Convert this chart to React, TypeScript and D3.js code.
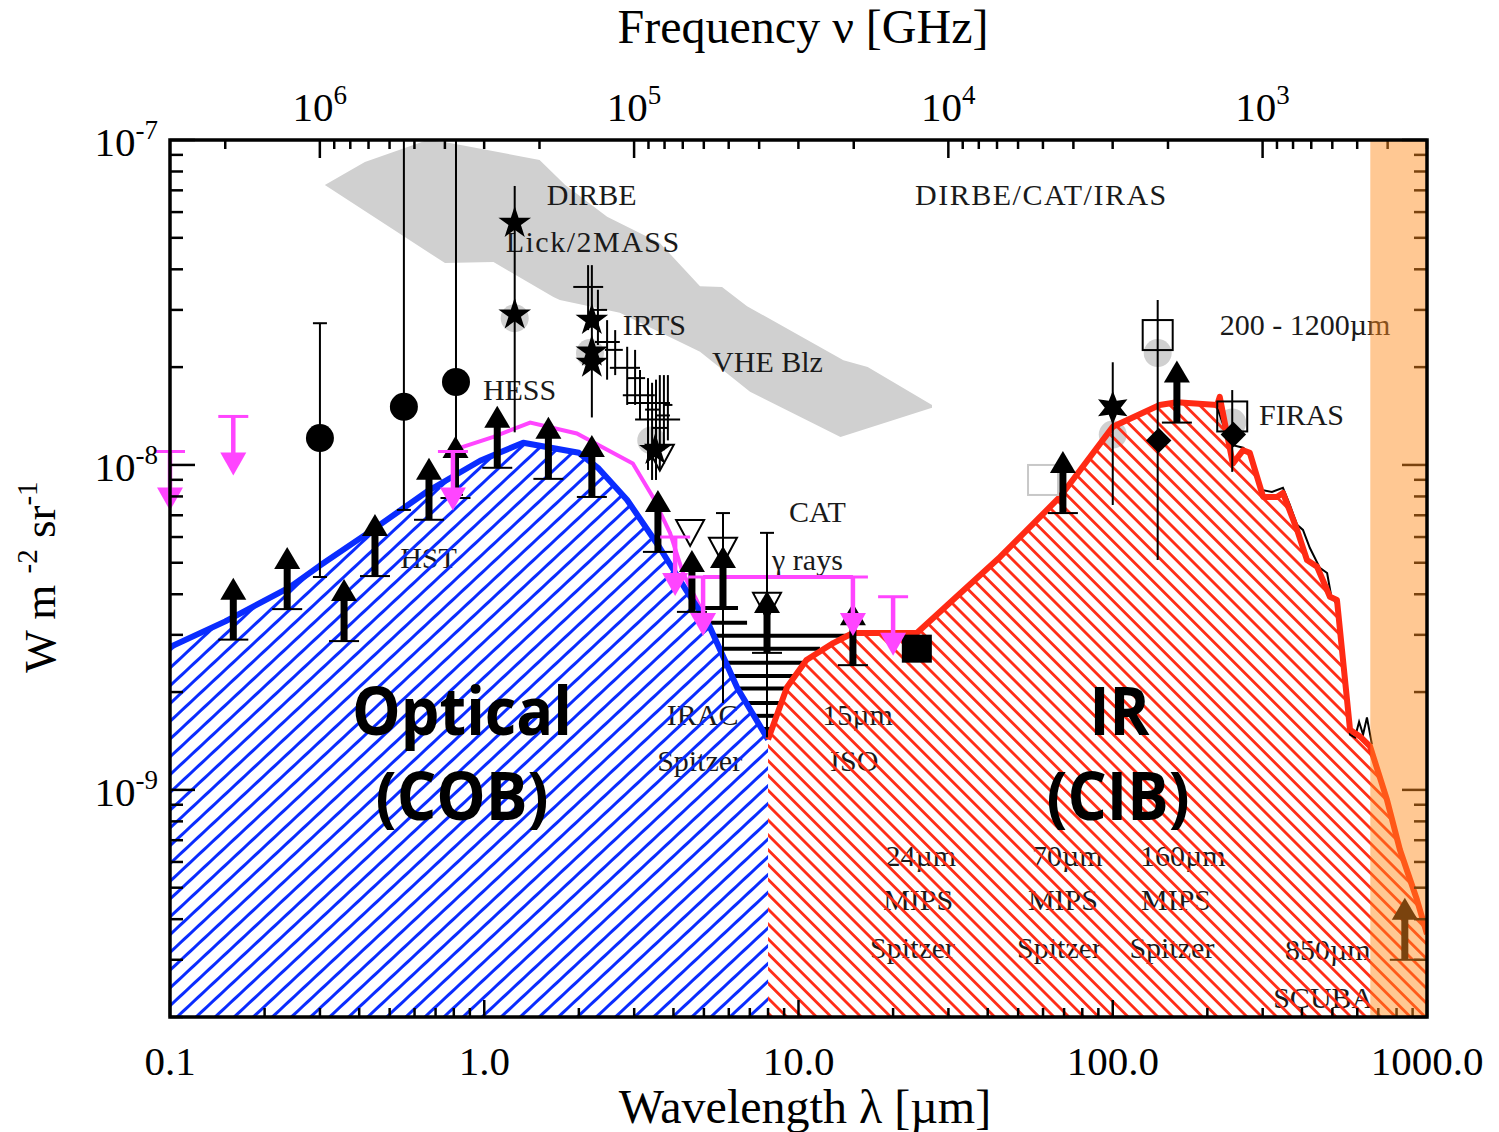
import React from 'react'
import * as d3 from 'd3'

type P = [number, number]

// wavelength [um] vs nu I_nu [W m^-2 sr^-1]
const cobModel: P[] = [
  [0.1, 2.75e-9], [0.15, 3.3e-9], [0.24, 4.2e-9], [0.3, 4.9e-9], [0.44, 6.3e-9],
  [0.66, 8.3e-9], [0.97, 1.03e-8], [1.33, 1.17e-8], [2.0, 1.09e-8], [2.3, 9.8e-9],
  [2.85, 7.8e-9], [3.6, 5.6e-9], [4.4, 4.1e-9], [5.2, 3.2e-9], [6.4, 2.05e-9], [8.0, 1.43e-9],
]

const cibModel: P[] = [
  [8.0, 1.43e-9], [9.19, 2.07e-9], [10.6, 2.51e-9], [12.9, 2.83e-9], [14.9, 3.04e-9],
  [23.8, 3.04e-9], [31.0, 3.84e-9], [43.8, 5.21e-9], [67.9, 7.97e-9], [100, 1.31e-8],
  [141, 1.53e-8], [160, 1.56e-8], [215, 1.53e-8], [219, 1.62e-8], [241, 1.01e-8],
  [260, 1.11e-8], [273, 1.09e-8], [301, 7.97e-9], [333, 7.97e-9], [348, 8.2e-9],
  [386, 6.31e-9], [415, 5.1e-9], [447, 4.86e-9], [491, 3.93e-9], [517, 3.84e-9],
  [569, 1.53e-9], [612, 1.46e-9], [659, 1.36e-9], [746, 9.31e-10], [820, 6.54e-10],
  [929, 4.59e-10], [1000, 3.6e-10],
]

const firasSpectrum: P[] = [
  [216, 1.48e-8], [228, 1.28e-8], [241, 1.15e-8], [260, 1.13e-8], [277, 1.07e-8],
  [298, 8.38e-9], [321, 8.26e-9], [348, 8.5e-9], [366, 7.53e-9], [386, 6.54e-9],
  [403, 6.31e-9], [424, 5.55e-9], [456, 4.82e-9], [481, 4.65e-9], [495, 3.98e-9],
  [517, 3.71e-9], [548, 2.18e-9], [569, 1.48e-9], [590, 1.45e-9], [608, 1.62e-9],
  [626, 1.48e-9], [644, 1.67e-9], [668, 1.38e-9],
]

const gammaUpperCurve: P[] = [
  [0.795, 1.11e-8], [1.07, 1.22e-8], [1.4, 1.35e-8], [1.97, 1.25e-8], [2.97, 1.01e-8],
  [3.44, 7.97e-9], [3.9, 6.18e-9], [4.29, 4.65e-9], [4.97, 3.5e-9],
]

// grey VHE blazar band, outline
const vheBand: P[] = [
  [0.311, 7.27e-8], [0.417, 8.56e-8], [0.66, 1.0e-7], [0.778, 9.79e-8], [1.5, 8.68e-8],
  [1.81, 7.27e-8], [2.46, 5.8e-8], [3.62, 4.82e-8], [4.86, 3.55e-8], [5.71, 3.53e-8],
  [6.86, 3.08e-8], [13.9, 2.1e-8], [16.6, 2.0e-8], [26.6, 1.53e-8], [26.6, 1.5e-8],
  [13.6, 1.22e-8], [7.01, 1.68e-8], [4.86, 2.23e-8], [2.7, 2.94e-8], [1.74, 3.22e-8],
  [1.66, 3.29e-8], [1.07, 4.21e-8], [0.75, 4.18e-8],
]

const lowerLimits: P[] = [
  [0.159, 2.9e-9], [0.236, 3.6e-9], [0.358, 2.87e-9], [0.449, 4.55e-9], [0.667, 6.78e-9],
  [0.81, 7.91e-9], [1.1, 9.8e-9], [1.6, 9.06e-9], [2.2, 7.97e-9], [3.57, 5.4e-9],
  [4.58, 3.53e-9], [5.75, 3.63e-9], [7.94, 2.64e-9], [14.9, 2.42e-9], [69.4, 7.11e-9],
  [160, 1.35e-8], [850, 3.0e-10],
]

const upperLimits: P[] = [
  [0.1, 1.1e-8], [0.159, 1.41e-8], [0.795, 1.1e-8], [4.05, 6.0e-9],
  [4.97, 4.52e-9], [14.9, 4.52e-9], [20.0, 3.93e-9],
]
const upperBox: P[] = [[4.97, 4.52e-9], [14.9, 4.52e-9]]

// [lambda, value, low, high]
const circles: [number, number, number, number][] = [
  [0.3, 1.21e-8, 4.52e-9, 2.73e-8], [0.555, 1.51e-8, 7.27e-9, 1e-7], [0.813, 1.8e-8, 8.09e-9, 1e-7],
]
const stars: P[] = [
  [1.25, 5.55e-8], [1.25, 2.9e-8], [2.2, 2.79e-8], [2.2, 2.23e-8], [2.2, 2.06e-8], [3.5, 1.11e-8],
]
const starErrors: [number, number, number][] = [[1.25, 1.26e-8, 7.22e-8], [2.2, 1.4e-8, 4.12e-8]]
const greyDots: P[] = [
  [1.25, 2.83e-8], [2.17, 2.21e-8], [3.4, 1.19e-8], [100, 1.24e-8], [139, 2.21e-8], [240, 1.35e-8],
]
// IRTS: [lambda, lamLo, lamHi, value, low, high]
const irts: number[][] = [
  [2.14, 1.92, 2.39, 3.53e-8, 2.6e-8, 4.12e-8],
  [2.3, 2.17, 2.46, 3.0e-8, 2.34e-8, 3.46e-8],
  [2.46, 2.25, 2.7, 2.39e-8, 1.83e-8, 2.79e-8],
  [2.61, 2.42, 2.76, 2.26e-8, 1.89e-8, 2.6e-8],
  [2.85, 2.51, 3.13, 1.99e-8, 1.53e-8, 2.31e-8],
  [3.02, 2.85, 3.25, 1.85e-8, 1.53e-8, 2.26e-8],
  [3.13, 2.76, 3.49, 1.64e-8, 1.38e-8, 1.96e-8],
  [3.32, 2.85, 3.9, 1.55e-8, 9.65e-9, 1.85e-8],
  [3.42, 3.25, 3.62, 1.48e-8, 8.99e-9, 1.79e-8],
  [3.52, 3.02, 4.2, 1.38e-8, 8.99e-9, 1.83e-8],
  [3.62, 3.42, 3.84, 1.3e-8, 9.65e-9, 1.89e-8],
  [3.73, 3.52, 3.9, 1.42e-8, 1.11e-8, 1.89e-8],
  [3.84, 3.73, 3.97, 1.53e-8, 1.19e-8, 1.89e-8],
]
// open down triangles: [lambda, value, low, high] (0 = no bar)
const triangles: number[][] = [
  [3.62, 1.06e-8, 0, 0], [4.52, 6.22e-9, 0, 0], [5.75, 5.48e-9, 1.85e-9, 7.11e-9], [7.94, 3.71e-9, 1.45e-9, 6.18e-9],
]
// horizontal gamma-ray bars: [value, lamLo, lamHi]
const gammaBars: number[][] = [
  [3.63e-9, 4.75, 6.42], [3.27e-9, 4.97, 6.86], [2.98e-9, 5.31, 14.6], [2.72e-9, 5.54, 11.7],
  [2.46e-9, 5.84, 10.5], [2.24e-9, 6.19, 9.89], [2.05e-9, 6.51, 9.33], [1.85e-9, 6.86, 8.93],
  [1.69e-9, 7.27, 8.6], [1.54e-9, 7.65, 8.3],
]
const hexStar: [number, number, number, number] = [100, 1.5e-8, 7.53e-9, 2.07e-8]
const openSquares: [number, number, number, number][] = [
  [139, 2.51e-8, 5.1e-9, 3.22e-8], [240, 1.41e-8, 9.52e-9, 1.7e-8],
]
const faintSquare: P = [60, 8.99e-9]
const diamonds: P[] = [[140, 1.19e-8], [242, 1.24e-8]]
const filledSquare: P = [23.8, 2.72e-9]
const submmBand: P = [660, 1000]

const notes: [string, number, number][] = [
  ['DIRBE', 1.58, 6.31e-8], ['Lick/2MASS', 1.17, 4.52e-8], ['IRTS', 2.76, 2.51e-8],
  ['HESS', 0.99, 1.58e-8], ['VHE Blz', 5.31, 1.93e-8], ['HST', 0.54, 4.82e-9],
  ['CAT', 9.33, 6.68e-9], ['\u03b3 rays', 8.24, 4.75e-9], ['DIRBE/CAT/IRAS', 23.5, 6.31e-8],
  ['200 - 1200\u00b5m', 219, 2.51e-8], ['FIRAS', 292, 1.33e-8],
  ['IRAC', 3.81, 1.58e-9], ['Spitzer', 3.55, 1.14e-9], ['15\u00b5m', 11.9, 1.58e-9], ['ISO', 12.6, 1.14e-9],
  ['24\u00b5m', 18.9, 5.85e-10], ['MIPS', 18.6, 4.27e-10], ['Spitzer', 16.9, 3.04e-10],
  ['70\u00b5m', 55.3, 5.85e-10], ['MIPS', 53.7, 4.27e-10], ['Spitzer', 49.6, 3.04e-10],
  ['160\u00b5m', 122, 5.85e-10], ['MIPS', 123, 4.27e-10], ['Spitzer', 113, 3.04e-10],
  ['850\u00b5m', 353, 3.0e-10], ['SCUBA', 324, 2.13e-10],
]
const wideNotes = ['Lick/2MASS', 'DIRBE/CAT/IRAS']
const bigLabels: [string, number, number, number][] = [
  ['Optical', 0.85, 1.48e-9, 220], ['(COB)', 0.85, 8.05e-10, 173],
  ['IR', 105, 1.48e-9, 60], ['(CIB)', 104, 8.05e-10, 143],
]

const lambdaTicks = [0.1, 1, 10, 100, 1000]
const lambdaTickLabels = ['0.1', '1.0', '10.0', '100.0', '1000.0']
const fluxTicks = [1e-7, 1e-8, 1e-9]
const fluxTickExp = ['-7', '-8', '-9']
const freqTicks = [1e6, 1e5, 1e4, 1e3]
const freqTickExp = ['6', '5', '4', '3']
const C_UM_GHZ = 299792.458

const serif = "'Liberation Serif', 'Times New Roman', serif"
const BLUE = '#0a2cff'
const RED = '#ff2a14'
const MAGENTA = '#ff45ff'

const isDecade = (t: number) => Math.abs(Math.log10(t) - Math.round(Math.log10(t))) < 1e-6

export default function App() {
  const width = 1499
  const height = 1132
  const x = d3.scaleLog().domain([0.1, 1000]).range([170, 1427])
  const y = d3.scaleLog().domain([2e-10, 1e-7]).range([1017, 140])
  const left = 170, right = 1427, top = 140, bottom = 1017
  const freq = d3.scaleLog().domain([C_UM_GHZ / 0.1, C_UM_GHZ / 1000])
  const fx = (nu: number) => x(C_UM_GHZ / nu)

  const line = d3.line<P>().x((d) => x(d[0])).y((d) => y(d[1]))
  const area = d3.area<P>().x((d) => x(d[0])).y0(bottom).y1((d) => y(d[1]))
  const starPath = d3.symbol().type(d3.symbolStar).size(330)() as string
  const hexPath = d3.range(12).map((i) => {
    const r = i % 2 === 0 ? 17 : 8
    const a = (Math.PI / 6) * i - Math.PI / 2
    return `${i === 0 ? 'M' : 'L'}${r * Math.cos(a)},${r * Math.sin(a)}`
  }).join('') + 'Z'

  const upArrow = (cx: number, cy: number, key: string) => (
    <g key={key} fill="#000" stroke="#000">
      <line x1={cx - 15} x2={cx + 15} y1={cy} y2={cy} strokeWidth={2} />
      <rect x={cx - 3.5} y={cy - 42} width={7} height={42} stroke="none" />
      <path d={`M${cx - 13},${cy - 40}L${cx + 13},${cy - 40}L${cx},${cy - 62}Z`} stroke="none" />
    </g>
  )
  const downArrow = (cx: number, cy: number, key: string) => (
    <g key={key} fill={MAGENTA} stroke={MAGENTA}>
      <line x1={cx - 15} x2={cx + 15} y1={cy} y2={cy} strokeWidth={3} />
      <line x1={cx} x2={cx} y1={cy} y2={cy + 38} strokeWidth={4.5} />
      <path d={`M${cx - 13},${cy + 36}L${cx + 13},${cy + 36}L${cx},${cy + 59}Z`} stroke="none" />
    </g>
  )

  return (
    <svg width={width} height={height} style={{ position: 'absolute', left: 0, top: 0, background: '#fff' }}>
      <defs>
        <clipPath id="plot">
          <rect x={left} y={top} width={right - left} height={bottom - top} />
        </clipPath>
        <pattern id="hatchBlue" patternUnits="userSpaceOnUse" width={13} height={13} patternTransform="rotate(47)">
          <line x1={6.5} y1={-2} x2={6.5} y2={15} stroke={BLUE} strokeWidth={3} />
        </pattern>
        <pattern id="hatchRed" patternUnits="userSpaceOnUse" width={10.5} height={10.5} patternTransform="rotate(-45)">
          <line x1={5.25} y1={-2} x2={5.25} y2={13} stroke={RED} strokeWidth={2.8} />
        </pattern>
      </defs>

      <g clipPath="url(#plot)">
        {/* grey VHE blazar band */}
        <path d={line(vheBand) + 'Z'} fill="#d0d0d0" />
        {greyDots.map((d, i) => (
          <circle key={'g' + i} cx={x(d[0])} cy={y(d[1])} r={14} fill="#d0d0d0" />
        ))}

        {/* annotations */}
        {notes.map(([t, l, v], i) => (
          <text key={'n' + i} x={x(l)} y={y(v)} fontFamily={serif} fontSize={30} fill="#1a1a1a"
            letterSpacing={wideNotes.includes(t) ? 1.5 : 0}>{t}</text>
        ))}

        {/* hatched COB / CIB areas */}
        <path d={area(cobModel) as string} fill="url(#hatchBlue)" />
        <path d={area(cibModel) as string} fill="url(#hatchRed)" />

        {/* gamma-ray horizontal bars */}
        {gammaBars.map(([v, lo, hi], i) => (
          <line key={'b' + i} x1={x(lo)} x2={x(hi)} y1={y(v)} y2={y(v)} stroke="#000" strokeWidth={4} />
        ))}

        {/* model curves */}
        <path d={line(gammaUpperCurve) as string} fill="none" stroke={MAGENTA} strokeWidth={4} />
        <path d={line(upperBox) as string} fill="none" stroke={MAGENTA} strokeWidth={4} />
        <path d={line(firasSpectrum) as string} fill="none" stroke="#000" strokeWidth={2} />
        <path d={line(cobModel) as string} fill="none" stroke={BLUE} strokeWidth={6} strokeLinejoin="round" />
        <path d={line(cibModel) as string} fill="none" stroke={RED} strokeWidth={6} strokeLinejoin="round" />

        {/* circles with error bars */}
        {circles.map(([l, v, lo, hi], i) => (
          <g key={'c' + i} stroke="#000" strokeWidth={2}>
            <line x1={x(l)} x2={x(l)} y1={y(lo)} y2={y(hi)} />
            <line x1={x(l) - 7} x2={x(l) + 7} y1={y(lo)} y2={y(lo)} />
            {hi < 1e-7 && <line x1={x(l) - 7} x2={x(l) + 7} y1={y(hi)} y2={y(hi)} />}
            <circle cx={x(l)} cy={y(v)} r={14} fill="#000" stroke="none" />
          </g>
        ))}

        {/* IRTS crosses */}
        {irts.map(([l, llo, lhi, v, lo, hi], i) => (
          <g key={'i' + i} stroke="#000" strokeWidth={2}>
            <line x1={x(llo)} x2={x(lhi)} y1={y(v)} y2={y(v)} />
            <line x1={x(l)} x2={x(l)} y1={y(lo)} y2={y(hi)} />
          </g>
        ))}

        {/* stars */}
        {starErrors.map(([l, lo, hi], i) => (
          <line key={'se' + i} x1={x(l)} x2={x(l)} y1={y(lo)} y2={y(hi)} stroke="#000" strokeWidth={2} />
        ))}
        {stars.map((d, i) => (
          <path key={'s' + i} d={starPath} transform={`translate(${x(d[0])},${y(d[1])})`} fill="#000" />
        ))}

        {/* open triangles */}
        {triangles.map(([l, v, lo, hi], i) => {
          const cx = x(l), cy = y(v)
          return (
            <g key={'t' + i} stroke="#000" strokeWidth={2} fill="none">
              {hi > 0 && <line x1={cx} x2={cx} y1={y(lo)} y2={y(hi)} />}
              {hi > 0 && <line x1={cx - 7} x2={cx + 7} y1={y(hi)} y2={y(hi)} />}
              <path d={`M${cx - 14},${cy - 12}L${cx + 14},${cy - 12}L${cx},${cy + 14}Z`} />
            </g>
          )
        })}

        {/* IR points */}
        <g stroke="#000" strokeWidth={2}>
          <line x1={x(hexStar[0])} x2={x(hexStar[0])} y1={y(hexStar[2])} y2={y(hexStar[3])} />
          {openSquares.map(([l, v, lo, hi], i) => (
            <line key={'qe' + i} x1={x(l)} x2={x(l)} y1={y(lo)} y2={y(hi)} />
          ))}
        </g>
        <path d={hexPath} transform={`translate(${x(hexStar[0])},${y(hexStar[1])})`} fill="#000" />
        {openSquares.map(([l, v], i) => (
          <rect key={'q' + i} x={x(l) - 15} y={y(v) - 15} width={30} height={30} fill="none" stroke="#000" strokeWidth={2} />
        ))}
        <rect x={x(faintSquare[0]) - 15} y={y(faintSquare[1]) - 15} width={30} height={30} fill="none" stroke="#c8c8c8" strokeWidth={2} />
        {diamonds.map((d, i) => (
          <rect key={'d' + i} x={-9} y={-9} width={18} height={18} fill="#000"
            transform={`translate(${x(d[0])},${y(d[1])}) rotate(45)`} />
        ))}
        <rect x={x(filledSquare[0]) - 15} y={y(filledSquare[1]) - 14} width={30} height={28} fill="#000" />

        {lowerLimits.map((d, i) => upArrow(x(d[0]), y(d[1]), 'u' + i))}
      </g>

      {upperLimits.map((d, i) => downArrow(x(d[0]), y(d[1]), 'm' + i))}

      {/* big region labels */}
      {bigLabels.map(([t, l, v, w], i) => (
        <text key={'L' + i} x={x(l)} y={y(v)} textAnchor="middle" fontFamily="'Open Sans', 'Noto Sans', sans-serif"
          fontWeight="bold" fontSize={66} textLength={w} lengthAdjust="spacingAndGlyphs" fill="#000">{t}</text>
      ))}

      {/* ticks */}
      <g stroke="#000" strokeWidth={2.5}>
        {x.ticks().map((t, i) => {
          const len = isDecade(t) ? 17 : 9
          return <line key={'xt' + i} x1={x(t)} x2={x(t)} y1={bottom} y2={bottom - len} />
        })}
        {freq.ticks().map((t, i) => {
          const len = isDecade(t) ? 18 : 9
          return <line key={'ft' + i} x1={fx(t)} x2={fx(t)} y1={top} y2={top + len} />
        })}
        {y.ticks().map((t, i) => {
          const len = isDecade(t) ? 25 : 13
          return (
            <g key={'yt' + i}>
              <line x1={left} x2={left + len} y1={y(t)} y2={y(t)} />
              <line x1={right} x2={right - len} y1={y(t)} y2={y(t)} />
            </g>
          )
        })}
      </g>

      {/* sub-mm band */}
      <rect x={x(submmBand[0])} y={top} width={x(submmBand[1]) - x(submmBand[0])} height={bottom - top}
        fill="#ff8c1e" fillOpacity={0.48} />

      <rect x={left} y={top} width={right - left} height={bottom - top} fill="none" stroke="#000" strokeWidth={3.5} />

      {/* tick labels */}
      <g fontFamily={serif} fill="#000">
        {lambdaTicks.map((t, i) => (
          <text key={'xl' + i} x={x(t)} y={1075} textAnchor="middle" fontSize={41}>{lambdaTickLabels[i]}</text>
        ))}
        {fluxTicks.map((t, i) => (
          <text key={'yl' + i} x={158} y={y(t) + 16} textAnchor="end" fontSize={41}>
            10<tspan dy={-17} fontSize={27}>{fluxTickExp[i]}</tspan>
          </text>
        ))}
        {freqTicks.map((t, i) => (
          <text key={'fl' + i} x={fx(t)} y={121} textAnchor="middle" fontSize={41}>
            10<tspan dy={-17} fontSize={27}>{freqTickExp[i]}</tspan>
          </text>
        ))}
        <text x={803} y={43} textAnchor="middle" fontSize={48}>Frequency {'\u03bd'} [GHz]</text>
        <text x={805} y={1123} textAnchor="middle" fontSize={48}>Wavelength {'\u03bb'} [{'\u00b5'}m]</text>
        <text transform="translate(55,577) rotate(-90)" textAnchor="middle" fontSize={45}>
          W m <tspan dy={-18} fontSize={29}>-2</tspan>
          <tspan dy={18}> sr</tspan>
          <tspan dy={-18} fontSize={29}>-1</tspan>
        </text>
      </g>
    </svg>
  )
}
